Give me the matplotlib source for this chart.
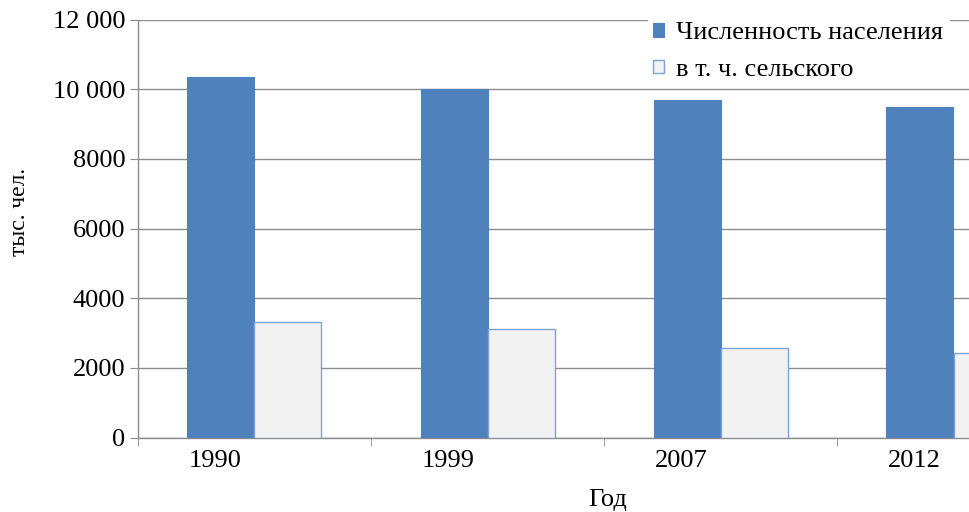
import matplotlib
matplotlib.use("Agg")
import matplotlib.pyplot as plt
import numpy as np

years = ["1990", "1999", "2007", "2012"]
total = [10350, 10010, 9690, 9480]
rural = [3320, 3110, 2560, 2430]
series_names = ["Численность населения", "в т. ч. сельского"]
yticks = [0, 2000, 4000, 6000, 8000, 10000, 12000]
ytick_labels = ["0", "2000", "4000", "6000", "8000", "10 000", "12 000"]

plt.rcParams['font.family'] = ['Liberation Serif', 'DejaVu Serif']

fig = plt.figure(figsize=(9.7, 5.12), dpi=100)
ax = fig.add_axes([138/970, 74.5/512, 932/970, 418/512])

x = np.arange(len(years))
w = 67/233
ax.bar(x - w/2, total, width=w, color="#4F81BD", edgecolor="#4F81BD", linewidth=0.8,
       label=series_names[0], zorder=3)
ax.bar(x + w/2, rural, width=w, color="#F2F2F2", edgecolor="#7EA3D6", linewidth=1.0,
       label=series_names[1], zorder=3)

ax.set_xlim(-0.5, 3.5)
ax.set_ylim(0, 12000)
ax.set_yticks(yticks)
ax.set_yticklabels(ytick_labels, fontsize=19)
ax.yaxis.grid(True, color="#8C8C8C", linewidth=1.0, zorder=0)
ax.set_axisbelow(True)

ax.set_xticks(x - 0.17)
ax.set_xticklabels(years, fontsize=19)
ax.tick_params(axis='x', which='major', length=0, pad=9)
ax.set_xticks(np.arange(-0.5, 4.0, 1.0), minor=True)
ax.tick_params(axis='x', which='minor', length=6, color="#8C8C8C", direction='out')
ax.tick_params(axis='y', length=6, color="#8C8C8C", direction='out', pad=3)

for s in ['top', 'right']:
    ax.spines[s].set_visible(False)
for s in ['left', 'bottom']:
    ax.spines[s].set_color("#8C8C8C")
    ax.spines[s].set_linewidth(1.0)

fig.text(20/970, 1 - 212/512, "тыс. чел.", rotation=90, fontsize=17,
         ha='center', va='center')
fig.text(608/970, 1 - 500/512, "Год", fontsize=19, ha='center', va='center')

leg = fig.legend(loc='upper left', bbox_to_anchor=(648/970, 1 - 17/512),
                 fontsize=19, frameon=True, handlelength=0.42, handleheight=0.42,
                 handletextpad=0.45, labelspacing=0.55, borderpad=0.2,
                 borderaxespad=0)
leg.get_frame().set_facecolor('white')
leg.get_frame().set_edgecolor('white')
leg.get_frame().set_alpha(1.0)

fig.savefig("out.png", dpi=100)
